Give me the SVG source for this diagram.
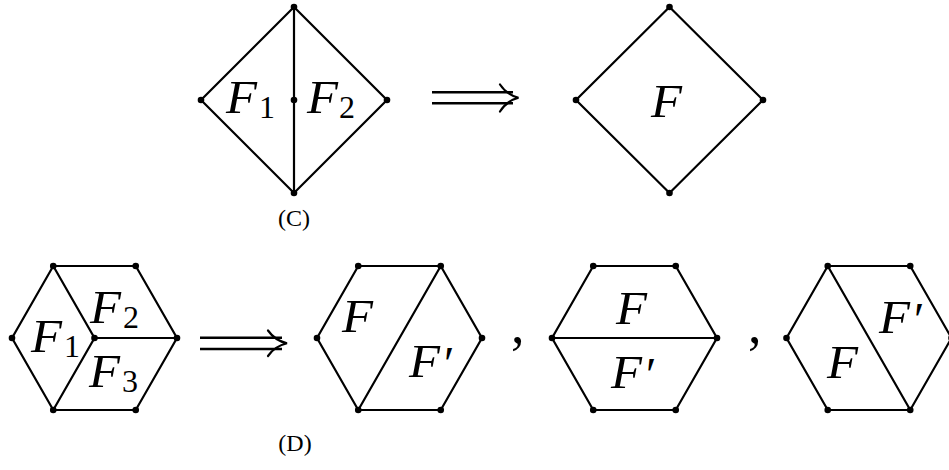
<svg xmlns="http://www.w3.org/2000/svg" width="949" height="470" viewBox="0 0 949 470">
<style>
.e{fill:none;stroke:#000;stroke-width:2.2;stroke-linejoin:miter;stroke-linecap:round}
.a{fill:none;stroke:#000;stroke-width:2.4;stroke-linecap:butt}
.d{fill:#000}
.m{font-family:"Liberation Serif","Times New Roman",serif;font-style:italic;font-size:46px;fill:#000}
.s{font-family:"Liberation Serif","Times New Roman",serif;font-size:32px;fill:#000}
.p{font-family:"Liberation Serif","Times New Roman",serif;font-style:italic;font-size:48px;fill:#000}
.c{font-family:"Liberation Serif","Times New Roman",serif;font-size:54px;fill:#000}
.cap{font-family:"Liberation Serif","Times New Roman",serif;font-size:24px;fill:#000;text-anchor:middle}
</style>
<defs>
<circle id="dot" r="3.3" class="d"/>
</defs>

<g id="diamond-split">
<path class="e" d="M294,7 L201,100 L294,193 L387,100 Z M294,7 L294,193"/>
<use href="#dot" x="294" y="7"/><use href="#dot" x="201" y="100"/><use href="#dot" x="294" y="193"/><use href="#dot" x="387" y="100"/><use href="#dot" x="294" y="100"/>
<text class="m" x="226" y="113" textLength="31" lengthAdjust="spacingAndGlyphs">F</text><text class="s" x="259" y="118">1</text>
<text class="m" x="307" y="113" textLength="31" lengthAdjust="spacingAndGlyphs">F</text><text class="s" x="339" y="118">2</text>
</g>

<g id="diamond-merged">
<path class="e" d="M669.5,7 L576,100 L669.5,193 L763,100 Z"/>
<use href="#dot" x="669.5" y="7"/><use href="#dot" x="576" y="100"/><use href="#dot" x="669.5" y="193"/><use href="#dot" x="763" y="100"/>
<text class="m" x="651" y="117" textLength="31" lengthAdjust="spacingAndGlyphs">F</text>
</g>

<g id="hex-three">
<path class="e" d="M12,338 L53.25,266 L135.75,266 L177,338 L135.75,410 L53.25,410 Z M53.25,266 L94.5,338 L53.25,410 M94.5,338 L177,338"/>
<use href="#dot" x="12" y="338"/><use href="#dot" x="53.25" y="266"/><use href="#dot" x="135.75" y="266"/><use href="#dot" x="177" y="338"/><use href="#dot" x="135.75" y="410"/><use href="#dot" x="53.25" y="410"/><use href="#dot" x="94.5" y="338"/>
<text class="m" x="31" y="352" textLength="31" lengthAdjust="spacingAndGlyphs">F</text><text class="s" x="64" y="357">1</text>
<text class="m" x="90" y="323" textLength="31" lengthAdjust="spacingAndGlyphs">F</text><text class="s" x="123" y="328">2</text>
<text class="m" x="89" y="387" textLength="31" lengthAdjust="spacingAndGlyphs">F</text><text class="s" x="122" y="392">3</text>
</g>

<g id="hex-diag-a">
<path class="e" d="M317,338 L358.25,266 L440.75,266 L482,338 L440.75,410 L358.25,410 Z M440.75,266 L358.25,410"/>
<use href="#dot" x="317" y="338"/><use href="#dot" x="358.25" y="266"/><use href="#dot" x="440.75" y="266"/><use href="#dot" x="482" y="338"/><use href="#dot" x="440.75" y="410"/><use href="#dot" x="358.25" y="410"/>
<text class="m" x="342" y="332" textLength="31" lengthAdjust="spacingAndGlyphs">F</text>
<text class="m" x="409" y="377" textLength="31" lengthAdjust="spacingAndGlyphs">F</text><text class="p" x="441" y="380">′</text>
</g>

<g id="hex-horizontal">
<path class="e" d="M552,338 L593.25,266 L675.75,266 L717,338 L675.75,410 L593.25,410 Z M552,338 L717,338"/>
<use href="#dot" x="552" y="338"/><use href="#dot" x="593.25" y="266"/><use href="#dot" x="675.75" y="266"/><use href="#dot" x="717" y="338"/><use href="#dot" x="675.75" y="410"/><use href="#dot" x="593.25" y="410"/>
<text class="m" x="616" y="324" textLength="31" lengthAdjust="spacingAndGlyphs">F</text>
<text class="m" x="611" y="388" textLength="31" lengthAdjust="spacingAndGlyphs">F</text><text class="p" x="643" y="391">′</text>
</g>

<g id="hex-diag-b">
<path class="e" d="M786.5,338 L827.75,266 L910.25,266 L951.5,338 L910.25,410 L827.75,410 Z M827.75,266 L910.25,410"/>
<use href="#dot" x="786.5" y="338"/><use href="#dot" x="827.75" y="266"/><use href="#dot" x="910.25" y="266"/><use href="#dot" x="951.5" y="338"/><use href="#dot" x="910.25" y="410"/><use href="#dot" x="827.75" y="410"/>
<text class="m" x="879" y="333" textLength="31" lengthAdjust="spacingAndGlyphs">F</text><text class="p" x="911" y="336">′</text>
<text class="m" x="827" y="378" textLength="31" lengthAdjust="spacingAndGlyphs">F</text>
</g>

<g id="connectors">
<path class="a" d="M432,92.3 L513,92.3 M432,103.3 L513,103.3"/>
<path class="e" d="M500,84.5 Q507,95 518.5,97.8 Q507,100.6 500,111.5"/>
<path class="a" d="M200,337.7 L282,337.7 M200,349 L282,349"/>
<path class="e" d="M268,330.5 Q275,340.5 287,343.3 Q275,346.1 268,356"/>
</g>

<g id="punctuation">
<text class="c" x="511" y="343">,</text>
<text class="c" x="748" y="343">,</text>
</g>

<g id="captions">
<text class="cap" x="294" y="226">(C)</text>
<text class="cap" x="295" y="451">(D)</text>
</g>
</svg>
